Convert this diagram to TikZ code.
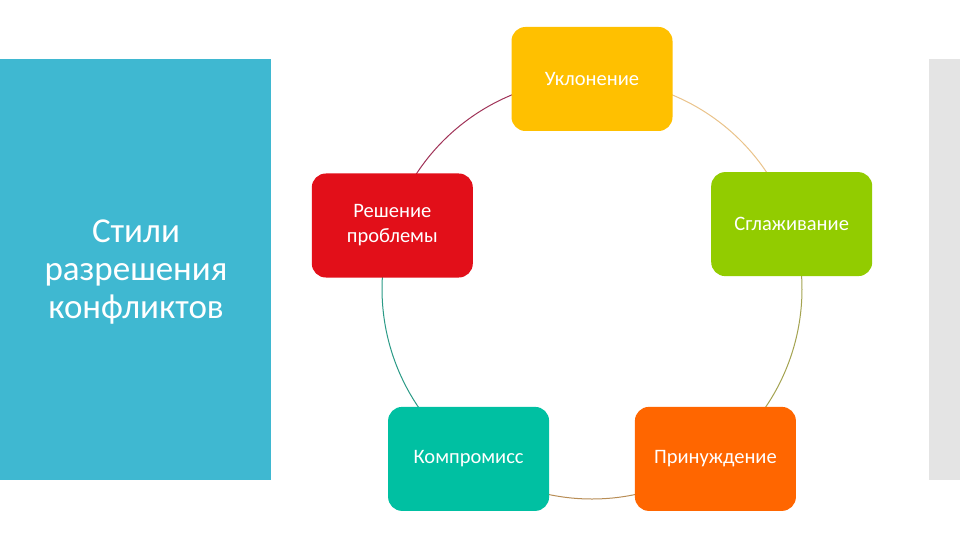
\documentclass[tikz,border=0pt]{standalone}
\usepackage{fontspec}
\setmainfont{Carlito}
\usetikzlibrary{backgrounds}
\definecolor{panelblue}{HTML}{3FB8D1}
\definecolor{bargray}{HTML}{E4E4E4}
\definecolor{cyellow}{HTML}{FFC000}
\definecolor{cgreen}{HTML}{92CC00}
\definecolor{corange}{HTML}{FF6600}
\definecolor{cteal}{HTML}{00C0A2}
\definecolor{cred}{HTML}{E20F19}
\definecolor{arcTL}{HTML}{A03358}
\definecolor{arcTR}{HTML}{EAC38A}
\definecolor{arcR}{HTML}{A4A350}
\definecolor{arcB}{HTML}{B88D55}
\definecolor{arcL}{HTML}{2A9A86}
\tikzset{
  stylebox/.style={rounded corners=14pt, minimum width=161pt, minimum height=104pt,
    inner sep=0pt, text=white, font=\fontsize{20.5}{25}\selectfont, align=center},
  ring/.style={line width=1pt},
}
\begin{document}
\begin{tikzpicture}[x=1pt,y=-1pt]
\useasboundingbox (0,0) rectangle (960,540);
\fill[panelblue] (0,59) rectangle (271,480);
\fill[bargray] (929,59) rectangle (960,480);
\node[font=\fontsize{35}{38}\selectfont, text=white, align=center] (title) at (136,272) {Стили\\разрешения\\конфликтов};
\node[stylebox, fill=cyellow] (uk) at (592,79) {Уклонение};
\node[stylebox, fill=cgreen] (sg) at (791.7,224.1) {Сглаживание};
\node[stylebox, fill=corange] (pr) at (715.4,458.9) {Принуждение};
\node[stylebox, fill=cteal] (km) at (468.6,458.9) {Компромисс};
\node[stylebox, fill=cred] (rs) at (392.3,225.5) {Решение\\проблемы};
\begin{scope}[on background layer]
\fill[white] (0,0) rectangle (960,540);
\draw[ring, arcTR] (uk.center) arc[start angle=-90, end angle=-18, radius=210];
\draw[ring, arcR] (sg.center) arc[start angle=-18, end angle=54, radius=210];
\draw[ring, arcB] (pr.center) arc[start angle=54, end angle=126, radius=210];
\draw[ring, arcL] (km.center) arc[start angle=126, end angle=198, radius=210];
\draw[ring, arcTL] (uk.center) arc[start angle=-90, end angle=-162, radius=210];
\end{scope}
\end{tikzpicture}
\end{document}
